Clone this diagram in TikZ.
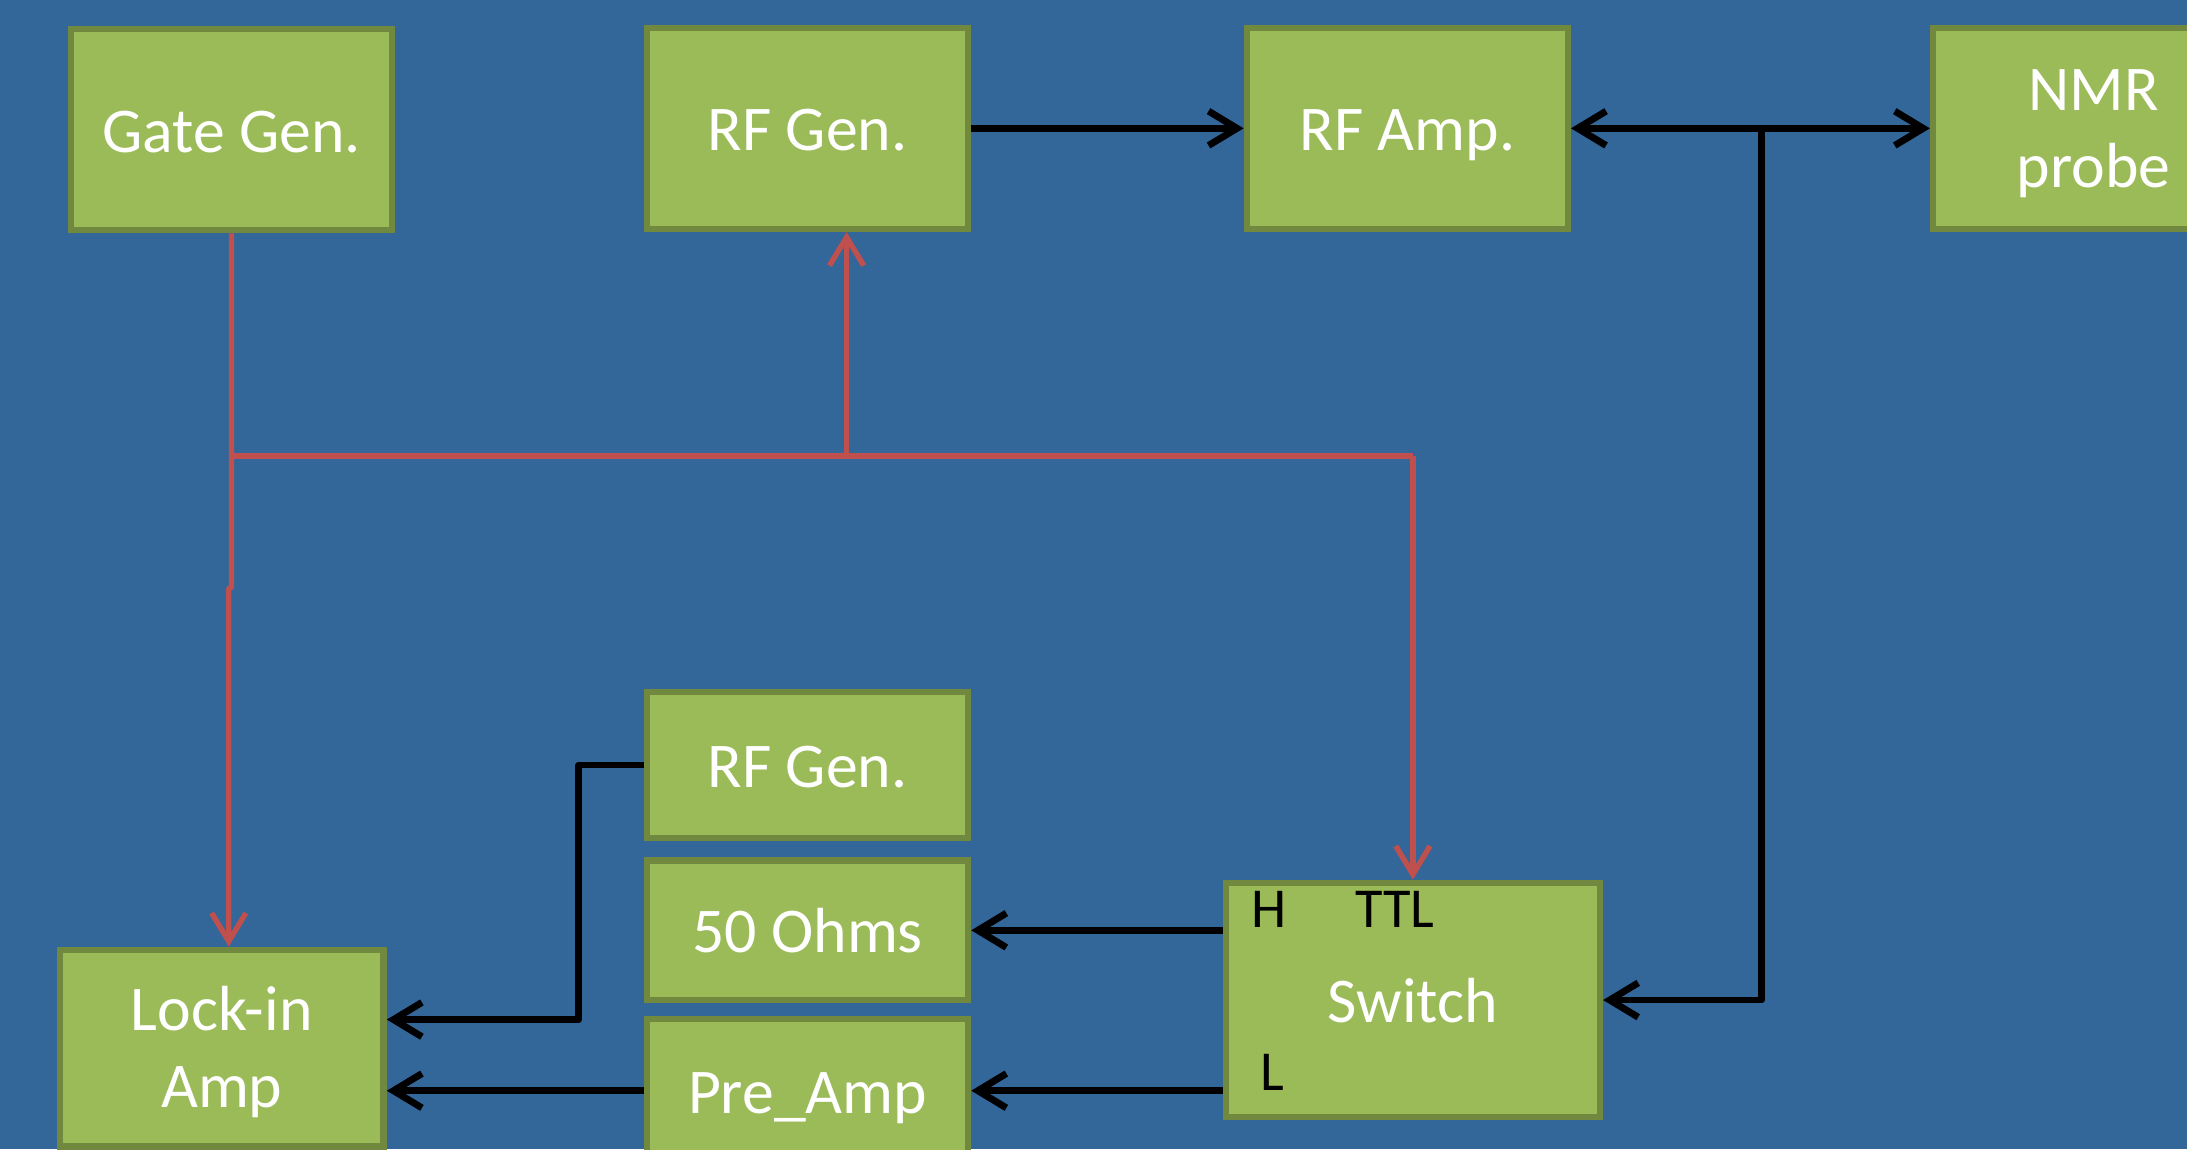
\documentclass[tikz,border=0pt]{standalone}
\usepackage{fontspec}
\setmainfont{Carlito}
\usetikzlibrary{arrows.meta,calc}
\definecolor{bgblue}{RGB}{51,102,153}
\definecolor{boxgreen}{RGB}{155,187,89}
\definecolor{boxedge}{RGB}{113,137,63}
\definecolor{sigred}{RGB}{192,80,77}
\tikzset{
  blk/.style={draw=boxedge, fill=boxgreen, line width=1.3pt, text=white,
    font=\fontsize{13}{15.6}\selectfont, inner sep=0pt,
    minimum width=2.3cm, text height=9.2pt, text depth=0pt},
  blk2/.style={blk, align=center, text height=26.8pt, text depth=2.7pt},
  wire/.style={line width=1.4pt, draw=black, line join=round},
  redwire/.style={line width=1.1pt, draw=sigred, line join=round},
  tag/.style={text=black, font=\fontsize{11.5}{13}\selectfont, inner sep=0pt},
  >={Straight Barb[length=5.8pt,width=7pt]}
}
\begin{document}
\begin{tikzpicture}[x=0.01cm,y=-0.01cm]
\fill[bgblue] (0,0) rectangle (1568,824);
\useasboundingbox (0,0) rectangle (1568,824);
\clip (0,0) rectangle (1568,824);

% boxes
\node[blk, minimum height=1.44cm] (gate) at (166,93) {Gate Gen.};
\node[blk, minimum height=1.44cm] (rfgen) at (579,92) {RF Gen.};
\node[blk, minimum height=1.44cm] (rfamp) at (1009,92) {RF Amp.};
\node[blk2, minimum height=1.44cm] (nmr) at (1501,92) {NMR\\probe};
\node[blk, minimum height=1.05cm] (rfgenb) at (579,548.5) {RF Gen.};
\node[blk, minimum height=1.0cm] (ohms) at (579,667) {50 Ohms};
\node[blk, minimum height=1.03cm] (pre) at (579,782) {Pre\_Amp};
\node[blk2, minimum width=2.32cm, minimum height=1.41cm] (lock) at (159,751.5) {Lock-in\\Amp};
\node[blk, minimum width=2.68cm, minimum height=1.68cm] (sw) at (1013,717) {Switch};

% port labels
\node[tag] (h) at (910,652) {H};
\node[tag] (ttl) at (1000,652) {TTL};
\node[tag] (l) at (912,769) {L};

% junction coordinates
\coordinate (jr) at (1263,92);
\coordinate (jl) at (166,327);
\coordinate (jg) at (607,327);
\coordinate (js) at (1013,327);
\coordinate (jog1) at (166,421);
\coordinate (jog2) at (164,422);
\coordinate (rb) at (415,548.5);
\coordinate (rc) at (415,731);

% black connectors
\draw[wire,->] (rfgen.east) -- (rfamp.west);
\draw[wire,<->] (rfamp.east) -- (nmr.west);
\draw[wire,->] (jr) -- (jr |- sw.east) -- (sw.east);
\draw[wire,->] (sw.west |- ohms.east) -- (ohms.east);
\draw[wire,->] (sw.west |- pre.east) -- (pre.east);
\draw[wire,->] (pre.west) -- (lock.east |- pre.west);
\draw[wire,->] (rfgenb.west) -- (rb) -- (rc) -- (lock.east |- rc);

% red connectors
\draw[redwire,->] (gate.south -| jl) -- (jl) -- (jog1) -- (jog2) -- (jog2 |- lock.north);
\draw[redwire] (jl) -- (js);
\draw[redwire,->] (jg) -- (jg |- rfgen.south);
\draw[redwire,->] (js) -- (js |- sw.north);
\end{tikzpicture}
\end{document}
